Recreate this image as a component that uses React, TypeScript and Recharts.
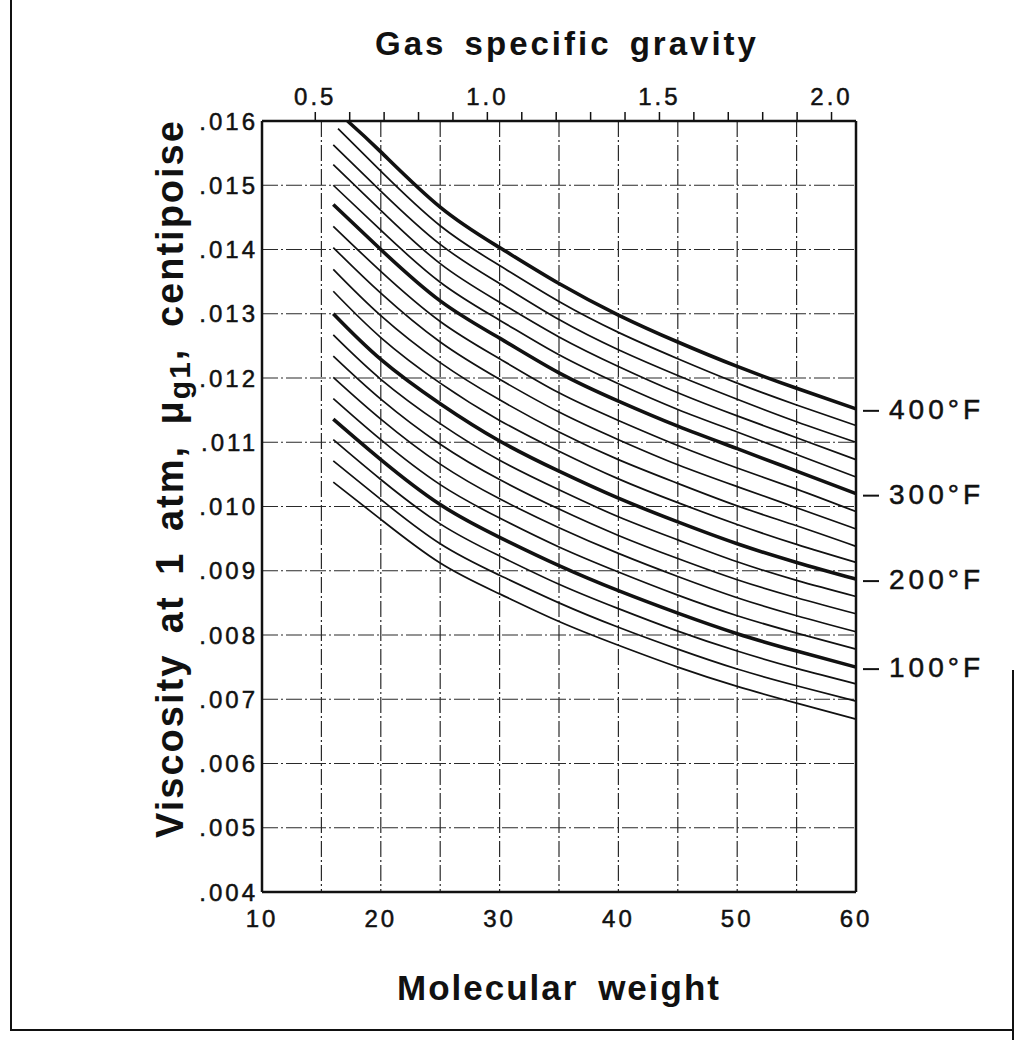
import React from "react";
import { LineChart, Line, XAxis, YAxis, CartesianGrid, LabelList } from "recharts";

const ink = "#111";
const font = '"Liberation Sans", Arial, Helvetica, sans-serif';
const AIR_MW = 28.97;

// molecular weights where the curves are read (first point of each curve is its start)
const molWeights = [20, 25, 30, 35, 40, 45, 50, 55, 60];
const temps = [400, 380, 360, 340, 320, 300, 280, 260, 240, 220, 200, 180, 160, 140, 120, 100, 80, 60, 40];
const startWeights = [17.2, 16.4, 16, 16, 16, 16, 16, 16, 16, 16, 16, 16, 16, 16, 16, 16, 16, 16, 16];

// viscosity, centipoise: start, then at each of molWeights
const visc400 = [0.01600, 0.01552, 0.01466, 0.01403, 0.01347, 0.01298, 0.01256, 0.01218, 0.01184, 0.01152];
const visc380 = [0.01588, 0.01522, 0.01437, 0.01375, 0.01319, 0.01271, 0.01230, 0.01192, 0.01158, 0.01126];
const visc360 = [0.01563, 0.01491, 0.01408, 0.01347, 0.01291, 0.01244, 0.01204, 0.01167, 0.01132, 0.01100];
const visc340 = [0.01532, 0.01461, 0.01378, 0.01318, 0.01264, 0.01218, 0.01177, 0.01141, 0.01107, 0.01073];
const visc320 = [0.01500, 0.01430, 0.01349, 0.01290, 0.01236, 0.01191, 0.01151, 0.01116, 0.01081, 0.01046];
const visc300 = [0.01470, 0.01400, 0.01320, 0.01262, 0.01208, 0.01164, 0.01125, 0.01090, 0.01055, 0.01020];
const visc280 = [0.01436, 0.01366, 0.01288, 0.01230, 0.01177, 0.01134, 0.01095, 0.01060, 0.01027, 0.00992];
const visc260 = [0.01403, 0.01332, 0.01256, 0.01198, 0.01147, 0.01104, 0.01065, 0.01031, 0.00998, 0.00965];
const visc240 = [0.01369, 0.01297, 0.01224, 0.01166, 0.01116, 0.01073, 0.01036, 0.01001, 0.00970, 0.00938];
const visc220 = [0.01335, 0.01263, 0.01192, 0.01134, 0.01086, 0.01043, 0.01006, 0.00972, 0.00941, 0.00913];
const visc200 = [0.01300, 0.01229, 0.01160, 0.01102, 0.01055, 0.01013, 0.00976, 0.00942, 0.00913, 0.00887];
const visc180 = [0.01267, 0.01198, 0.01129, 0.01072, 0.01026, 0.00984, 0.00948, 0.00914, 0.00885, 0.00860];
const visc160 = [0.01234, 0.01167, 0.01097, 0.01042, 0.00996, 0.00955, 0.00919, 0.00886, 0.00858, 0.00833];
const visc140 = [0.01201, 0.01136, 0.01066, 0.01012, 0.00967, 0.00927, 0.00891, 0.00858, 0.00830, 0.00805];
const visc120 = [0.01168, 0.01104, 0.01034, 0.00982, 0.00937, 0.00898, 0.00862, 0.00830, 0.00803, 0.00778];
const visc100 = [0.01136, 0.01073, 0.01003, 0.00952, 0.00908, 0.00869, 0.00834, 0.00802, 0.00775, 0.00750];
const visc80 = [0.01104, 0.01042, 0.00973, 0.00923, 0.00879, 0.00841, 0.00806, 0.00775, 0.00748, 0.00724];
const visc60 = [0.01071, 0.01011, 0.00942, 0.00893, 0.00850, 0.00812, 0.00778, 0.00747, 0.00721, 0.00697];
const visc40 = [0.01038, 0.00980, 0.00912, 0.00864, 0.00821, 0.00784, 0.00750, 0.00720, 0.00694, 0.00669];

const mwTicks = [10, 15, 20, 25, 30, 35, 40, 45, 50, 55, 60];
const viscTicks = [0.004, 0.005, 0.006, 0.007, 0.008, 0.009, 0.01, 0.011, 0.012, 0.013, 0.014, 0.015, 0.016];
const sgTicks = [0.5, 0.6, 0.7, 0.8, 0.9, 1.0, 1.1, 1.2, 1.3, 1.4, 1.5, 1.6, 1.7, 1.8, 1.9, 2.0];
const sgLabels = [0.5, 1.0, 1.5, 2.0];

const seriesValues = [
  visc400, visc380, visc360, visc340, visc320, visc300, visc280, visc260, visc240, visc220,
  visc200, visc180, visc160, visc140, visc120, visc100, visc80, visc60, visc40,
];

const curves = temps.map((temp, i) => ({
  temp,
  bold: temp % 100 === 0,
  data: [startWeights[i], ...molWeights].map((mw, j) => ({ mw, v: seriesValues[i][j] })),
}));

// gravity scale points, only there so the top axis has values to scale
const sgPoints = sgTicks.map((sg) => ({ sg }));

const tempLabel = (temp: number, last: number) => (props: any) => {
  const { x, y, index } = props;
  if (index !== last) return null;
  return (
    <g>
      <line x1={x + 7} x2={x + 23} y1={y + 2} y2={y + 2} stroke={ink} strokeWidth={2} />
      <text
        x={x + 33}
        y={y}
        dy="0.36em"
        fontSize={28}
        letterSpacing={4}
        fill={ink}
        stroke={ink}
        strokeWidth={0.5}
        fontFamily={font}
      >
        {temp}°F
      </text>
    </g>
  );
};

const border = { stroke: ink, strokeWidth: 2.5 };
const tickStyle = { fontSize: 24, fill: ink, stroke: ink, strokeWidth: 0.5, letterSpacing: 3, fontFamily: font };

export default function App() {
  return (
    <div style={{ position: "absolute", left: 0, top: 0, width: 1021, height: 1040, background: "#fff" }}>
      <div style={{ position: "absolute", left: 10, top: 0, width: 2, height: 1031, background: ink }} />
      <div style={{ position: "absolute", left: 10, top: 1029, width: 1003, height: 2, background: ink }} />
      <div style={{ position: "absolute", left: 1012, top: 670, width: 2, height: 370, background: ink }} />
      <LineChart
        width={1021}
        height={1040}
        margin={{ top: 81, left: 182, right: 163, bottom: 108 }}
        style={{ fontFamily: font }}
      >
        <CartesianGrid
          xAxisId="mw"
          yAxisId="v"
          stroke="#2a2a2a"
          strokeWidth={1.2}
          strokeDasharray="16 3 2 3"
        />
        <XAxis
          xAxisId="mw"
          type="number"
          dataKey="mw"
          domain={[10, 60]}
          ticks={mwTicks}
          interval={0}
          tickFormatter={(v: number) => (v % 10 === 0 ? String(v) : "")}
          tickLine={false}
          tickSize={0}
          tickMargin={18}
          tick={tickStyle}
          axisLine={border}
          height={40}
          label={{
            content: (p: any) => (
              <text
                x={p.viewBox.x + p.viewBox.width / 2}
                y={p.viewBox.y + 108}
                textAnchor="middle"
                fontSize={35}
                fontWeight="bold"
                letterSpacing={2}
                wordSpacing={8}
                fill={ink}
                fontFamily={font}
              >
                Molecular weight
              </text>
            ),
          }}
        />
        <XAxis
          xAxisId="sg"
          orientation="top"
          type="number"
          dataKey="sg"
          domain={[10 / AIR_MW, 60 / AIR_MW]}
          allowDataOverflow
          ticks={sgTicks}
          interval={0}
          tickFormatter={(v: number) => (sgLabels.some((s) => Math.abs(s - v) < 1e-6) ? v.toFixed(1) : "")}
          tickSize={9}
          tickMargin={7}
          tickLine={{ stroke: ink, strokeWidth: 1.5 }}
          tick={tickStyle}
          axisLine={border}
          height={40}
          label={{
            content: (p: any) => (
              <text
                x={p.viewBox.x + p.viewBox.width / 2 + 8}
                y={55}
                textAnchor="middle"
                fontSize={33}
                fontWeight="bold"
                letterSpacing={3}
                wordSpacing={6}
                fill={ink}
                fontFamily={font}
              >
                Gas specific gravity
              </text>
            ),
          }}
        />
        <YAxis
          yAxisId="v"
          type="number"
          domain={[0.004, 0.016]}
          ticks={viscTicks}
          interval={0}
          tickFormatter={(v: number) => v.toFixed(3).replace(/^0/, "")}
          tickLine={false}
          tickSize={0}
          tickMargin={4}
          tick={tickStyle}
          axisLine={border}
          width={80}
          label={{
            content: (p: any) => {
              const cx = 183;
              const cy = p.viewBox.y + p.viewBox.height / 2 - 28;
              return (
                <text
                  x={cx}
                  y={cy}
                  transform={`rotate(-90 ${cx} ${cy})`}
                  textAnchor="middle"
                  fontSize={38}
                  fontWeight="bold"
                  letterSpacing={2}
                  wordSpacing={8}
                  fill={ink}
                  fontFamily={font}
                >
                  Viscosity at 1 atm, μ
                  <tspan fontSize={30} dy={7}>g1</tspan>
                  <tspan dy={-7}>, centipoise</tspan>
                </text>
              );
            },
          }}
        />
        <YAxis
          yAxisId="r"
          orientation="right"
          type="number"
          domain={[0.004, 0.016]}
          tick={false}
          tickLine={false}
          axisLine={border}
          width={2}
        />
        <Line
          xAxisId="sg"
          yAxisId="v"
          data={sgPoints}
          dataKey="v"
          stroke="none"
          dot={false}
          activeDot={false}
          legendType="none"
          isAnimationActive={false}
        />
        {curves.map((c) => (
          <Line
            key={c.temp}
            xAxisId="mw"
            yAxisId="v"
            data={c.data}
            dataKey="v"
            type="natural"
            stroke={ink}
            strokeWidth={c.bold ? 3.6 : 1.7}
            dot={false}
            activeDot={false}
            isAnimationActive={false}
          >
            {c.bold && <LabelList dataKey="v" content={tempLabel(c.temp, c.data.length - 1)} />}
          </Line>
        ))}
      </LineChart>
    </div>
  );
}
